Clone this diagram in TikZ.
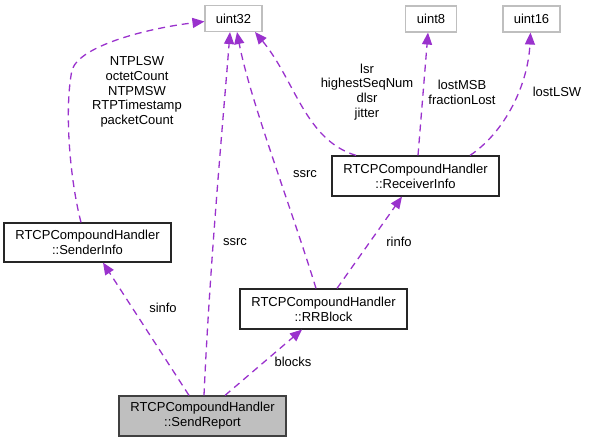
\documentclass[tikz,border=0pt]{standalone}
\usepackage{fontspec}
\setmainfont{Liberation Sans}
\usetikzlibrary{arrows.meta}
\definecolor{edgec}{HTML}{9A32CD}
\definecolor{grayb}{HTML}{BFBFBF}
\begin{document}
\begin{tikzpicture}[x=1pt,y=-1pt,
  every node/.style={font=\fontsize{13}{15}\selectfont, inner sep=0pt, align=center},
  cls/.style={draw=black!85, line width=1.2pt, minimum width=167pt, minimum height=40pt, fill=white},
  prim/.style={draw=grayb, line width=1.1pt, minimum height=26pt, fill=white},
  cur/.style={draw=black!75, line width=1.2pt, minimum width=167pt, minimum height=40pt, fill=grayb},
  edge/.style={draw=edgec, line width=1.3pt, dash pattern=on 7pt off 5pt, -{Triangle[length=12pt,width=10pt,fill=edgec]}},
  lbl/.style={font=\fontsize{13}{14.8}\selectfont, align=center}]
\useasboundingbox (0,0) rectangle (589,443);
\node[prim, minimum width=57pt] (u32) at (233.5,18.5) {uint32};
\node[prim, minimum width=51pt] (u8) at (431,19) {uint8};
\node[prim, minimum width=57pt] (u16) at (531.5,19) {uint16};
\node[cls] (recv) at (415.5,176) {RTCPCompoundHandler\\::ReceiverInfo};
\node[cls, minimum height=39pt] (sender) at (87.5,242.5) {RTCPCompoundHandler\\::SenderInfo};
\node[cls] (rr) at (323.5,309) {RTCPCompoundHandler\\::RRBlock};
\node[cur] (send) at (202.5,416) {RTCPCompoundHandler\\::SendReport};

% SenderInfo -> uint32
\draw[edge] ([xshift=-6.5pt]sender.north) .. controls (70,180) and (64,110) .. (72,70)
  .. controls (80,45) and (150,28) .. ([yshift=-3pt]u32.west);
\node[lbl] (lsend) at (137,92) {NTPLSW\\octetCount\\NTPMSW\\RTPTimestamp\\packetCount};

% SendReport -> uint32 (ssrc)
\draw[edge] ([xshift=1.5pt]send.north) .. controls (210,260) and (224,110) .. ([xshift=-3.5pt]u32.south);
\node[lbl] (l1) at (235,242) {ssrc};

% RRBlock -> uint32 (ssrc)
\draw[edge] ([xshift=-7.5pt]rr.north) .. controls (292,210) and (250,100) .. ([xshift=3.5pt]u32.south);
\node[lbl] (l2) at (305,174) {ssrc};

% ReceiverInfo -> uint32
\draw[edge] ([xshift=-59.5pt]recv.north) .. controls (305,140) and (295,80) .. ([xshift=21.5pt]u32.south);
\node[lbl] (l3) at (367,92) {lsr\\highestSeqNum\\dlsr\\jitter};

% ReceiverInfo -> uint8
\draw[edge] ([xshift=2.5pt]recv.north) -- ([xshift=-3pt]u8.south);
\node[lbl] (l4) at (462,92) {lostMSB\\fractionLost};

% ReceiverInfo -> uint16
\draw[edge] ([xshift=54.5pt]recv.north) .. controls (505,132) and (528,85) .. ([xshift=-1pt]u16.south);
\node[lbl] (l5) at (557,92) {lostLSW};

% RRBlock -> ReceiverInfo (rinfo)
\draw[edge] ([xshift=13.5pt]rr.north) -- ([xshift=-13.5pt]recv.south);
\node[lbl] (l6) at (399,242) {rinfo};

% SendReport -> SenderInfo (sinfo)
\draw[edge] ([xshift=-13.5pt]send.north) -- ([xshift=15.5pt]sender.south);
\node[lbl] (l7) at (163,308) {sinfo};

% SendReport -> RRBlock (blocks)
\draw[edge] ([xshift=22.5pt]send.north) -- ([xshift=-21.5pt]rr.south);
\node[lbl] (l8) at (293,362) {blocks};
\end{tikzpicture}
\end{document}
